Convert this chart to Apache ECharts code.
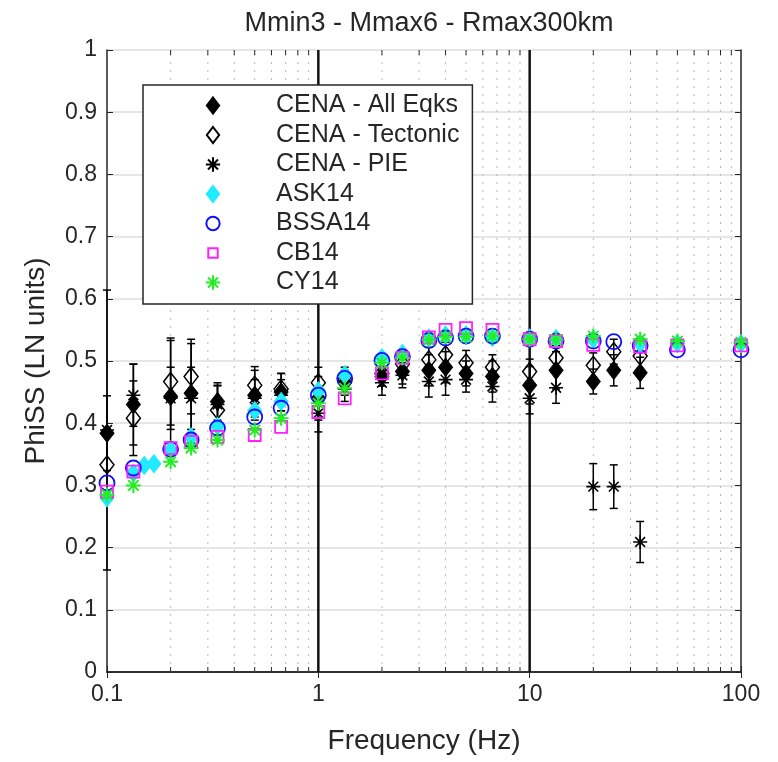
<!DOCTYPE html>
<html>
<head>
<meta charset="utf-8">
<script src="https://cdn.jsdelivr.net/npm/echarts@6/dist/echarts.min.js"></script>
<style>
html,body{margin:0;padding:0;background:#fff;}
#chart{width:778px;height:762px;}
</style>
</head>
<body>
<div id="chart"></div>
<script>
// ---------- data ----------
var titleText = 'Mmin3 - Mmax6 - Rmax300km';
var xName = 'Frequency (Hz)';
var yName = 'PhiSS (LN units)';

var fCENA = [0.1, 0.1333, 0.2, 0.25, 0.3333, 0.5, 0.6667, 1, 1.333, 2, 2.5, 3.333, 4, 5, 6.667, 10, 13.33, 20, 25, 33.33];
var allEqks = [0.384, 0.43, 0.443, 0.448, 0.435, 0.445, 0.45, 0.44, 0.465, 0.475, 0.483, 0.485, 0.49, 0.48, 0.475, 0.461, 0.485, 0.467, 0.485, 0.481];
var allErr  = [0.06, 0.065, 0.09, 0.08, 0.03, 0.04, 0.03, 0.035, 0.02, 0.015, 0.02, 0.025, 0.025, 0.02, 0.025, 0.03, 0.03, 0.02, 0.025, 0.025];
var tectonic = [0.333, 0.408, 0.467, 0.475, 0.421, 0.461, 0.455, 0.465, 0.47, 0.48, 0.495, 0.502, 0.51, 0.497, 0.49, 0.483, 0.505, 0.493, 0.515, 0.508];
var tecErr   = [0.05, 0.06, 0.07, 0.06, 0.04, 0.03, 0.025, 0.025, 0.02, 0.02, 0.02, 0.02, 0.02, 0.02, 0.02, 0.02, 0.02, 0.02, 0.02, 0.02];
var pie    = [0.389, 0.445, 0.44, 0.44, 0.43, 0.44, 0.445, 0.416, 0.455, 0.465, 0.477, 0.467, 0.47, 0.47, 0.459, 0.44, 0.457, 0.298, 0.298, 0.209];
var pieErr = [0.225, 0.05, 0.05, 0.05, 0.03, 0.03, 0.025, 0.03, 0.02, 0.02, 0.02, 0.025, 0.025, 0.02, 0.025, 0.025, 0.025, 0.037, 0.035, 0.033];

var fASK = [0.1, 0.1333, 0.15, 0.1667, 0.2, 0.25, 0.3333, 0.5, 0.6667, 1, 1.333, 2, 2.5, 3.333, 4, 5, 6.667, 10, 13.33, 20, 33.33, 50, 100];
var ask14 = [0.28, 0.32, 0.332, 0.335, 0.357, 0.378, 0.395, 0.42, 0.435, 0.452, 0.478, 0.505, 0.512, 0.537, 0.542, 0.542, 0.538, 0.537, 0.536, 0.535, 0.528, 0.528, 0.528];

var fModel = [0.1, 0.1333, 0.2, 0.25, 0.3333, 0.5, 0.6667, 1, 1.333, 2, 2.5, 3.333, 4, 5, 6.667, 10, 13.33, 20, 25, 33.33, 50, 100];
var bssa14 = [0.304, 0.328, 0.358, 0.373, 0.392, 0.41, 0.424, 0.445, 0.472, 0.501, 0.507, 0.533, 0.537, 0.54, 0.54, 0.535, 0.532, 0.532, 0.531, 0.525, 0.518, 0.518];
var cb14   = [0.29, 0.322, 0.36, 0.37, 0.378, 0.381, 0.394, 0.418, 0.44, 0.48, 0.505, 0.538, 0.55, 0.553, 0.55, 0.535, 0.532, 0.526, null, 0.523, 0.525, 0.525];
var cy14   = [0.285, 0.30, 0.338, 0.36, 0.373, 0.389, 0.408, 0.432, 0.456, 0.497, 0.505, 0.534, 0.539, 0.539, 0.54, 0.535, 0.534, 0.54, null, 0.535, 0.532, 0.53];

var minorX = [0.2,0.3,0.4,0.5,0.6,0.7,0.8,0.9,2,3,4,5,6,7,8,9,20,30,40,50,60,70,80,90];
var refLinesX = [1, 10];

// ---------- helpers ----------
var FONT = 'Liberation Sans, Arial, sans-serif';
var TXT = '#262626';
var DIAMOND = 'path://M0,-1.3L1,0L0,1.3L-1,0Z';
var SQUARE = 'path://M0,0L1,0L1,1L0,1Z';
var STAR = 'path://M0,-1L0,1M-1,0L1,0M-0.7,-0.7L0.7,0.7M-0.7,0.7L0.7,-0.7';
// legend icons (invisible move-to points add breathing room inside the icon box)
var LEG_SQUARE = 'path://M-0.35,-0.35M1.35,1.35M0,0L1,0L1,1L0,1Z';
var LEG_CIRCLE = 'path://M-1.2,-1.2M1.2,1.2M1,0A1,1 0 1 1 -1,0A1,1 0 1 1 1,0Z';
var LEG_STAR = 'path://M-1.12,-1.12M1.12,1.12M0,-1L0,1M-1,0L1,0M-0.7,-0.7L0.7,0.7M-0.7,0.7L0.7,-0.7';

function zip(xs, ys) {
  var out = [];
  for (var i = 0; i < xs.length; i++) if (ys[i] !== null) out.push([xs[i], ys[i]]);
  return out;
}
function zipErr(xs, ys, es) {
  var out = [];
  for (var i = 0; i < xs.length; i++) out.push([xs[i], ys[i] - es[i], ys[i] + es[i]]);
  return out;
}
function errRender(params, api) {
  var x = api.value(0), lo = api.value(1), hi = api.value(2);
  var p1 = api.coord([x, lo]), p2 = api.coord([x, hi]);
  var w = 4;
  var st = {stroke: '#000', lineWidth: 1.5};
  return {type: 'group', children: [
    {type: 'line', shape: {x1: p1[0], y1: p1[1], x2: p2[0], y2: p2[1]}, style: st},
    {type: 'line', shape: {x1: p1[0]-w, y1: p1[1], x2: p1[0]+w, y2: p1[1]}, style: st},
    {type: 'line', shape: {x1: p2[0]-w, y1: p2[1], x2: p2[0]+w, y2: p2[1]}, style: st}
  ]};
}
function minorRender(params, api) {
  var x = api.value(0);
  var pb = api.coord([x, 0]), pt = api.coord([x, 1]);
  return {type: 'group', children: [
    {type: 'line', shape: {x1: pb[0], y1: pb[1], x2: pt[0], y2: pt[1]},
     style: {stroke: '#b8b8b8', lineWidth: 1, lineDash: [2, 6]}},
    {type: 'line', shape: {x1: pb[0], y1: pb[1], x2: pb[0], y2: pb[1]-5},
     style: {stroke: TXT, lineWidth: 1}},
    {type: 'line', shape: {x1: pt[0], y1: pt[1], x2: pt[0], y2: pt[1]+5},
     style: {stroke: TXT, lineWidth: 1}}
  ]};
}
function refRender(params, api) {
  var x = api.value(0);
  var pb = api.coord([x, 0]), pt = api.coord([x, 1]);
  return {type: 'line', shape: {x1: pb[0], y1: pb[1], x2: pt[0], y2: pt[1]},
          style: {stroke: '#111', lineWidth: 2.5}};
}

var chart = echarts.init(document.getElementById('chart'), null, {renderer: 'canvas'});

var axisLineStyle = {show: true, lineStyle: {color: TXT, width: 1.5}};
var option = {
  animation: false,
  backgroundColor: '#fff',
  textStyle: {fontFamily: FONT},
  title: {
    text: titleText, left: 424, top: 5, textAlign: 'center',
    textStyle: {fontFamily: FONT, fontSize: 27, fontWeight: 'normal', color: TXT}
  },
  grid: {left: 107, right: 37, top: 50, bottom: 90},
  legend: {
    orient: 'vertical', left: 143, top: 85,
    backgroundColor: '#fff', borderColor: TXT, borderWidth: 1.5,
    padding: [8, 13, 9, 61],
    itemWidth: 20, itemHeight: 16, itemGap: 4.5,
    textStyle: {fontFamily: FONT, fontSize: 25, lineHeight: 25, color: TXT, padding: [0, 0, 0, 48]},
    data: [
      {name: 'CENA - All Eqks'},
      {name: 'CENA - Tectonic'},
      {name: 'CENA - PIE', icon: LEG_STAR},
      {name: 'ASK14'},
      {name: 'BSSA14', icon: LEG_CIRCLE},
      {name: 'CB14', icon: LEG_SQUARE},
      {name: 'CY14', icon: LEG_STAR}
    ]
  },
  xAxis: [{
    type: 'log', logBase: 10, min: 0.1, max: 100, position: 'bottom',
    name: xName, nameLocation: 'middle', nameGap: 55,
    nameTextStyle: {fontFamily: FONT, fontSize: 28, color: TXT},
    axisLine: axisLineStyle,
    axisTick: {show: true, inside: true, length: 6, lineStyle: {color: TXT}},
    axisLabel: {fontFamily: FONT, fontSize: 23, color: TXT, margin: 11},
    splitLine: {show: false}, minorTick: {show: false}
  }, {
    type: 'log', logBase: 10, min: 0.1, max: 100, position: 'top',
    axisLine: axisLineStyle,
    axisTick: {show: true, inside: true, length: 6, lineStyle: {color: TXT}},
    axisLabel: {show: false}, splitLine: {show: false}
  }],
  yAxis: [{
    type: 'value', min: 0, max: 1, interval: 0.1, position: 'left',
    name: yName, nameLocation: 'middle', nameGap: 57, nameRotate: 90,
    nameTextStyle: {fontFamily: FONT, fontSize: 28, color: TXT},
    axisLine: axisLineStyle,
    axisTick: {show: true, inside: true, length: 6, lineStyle: {color: TXT}},
    axisLabel: {fontFamily: FONT, fontSize: 23, color: TXT, margin: 10},
    splitLine: {show: true, lineStyle: {color: '#dedede', width: 1.5}}
  }, {
    type: 'value', min: 0, max: 1, interval: 0.1, position: 'right',
    axisLine: axisLineStyle,
    axisTick: {show: true, inside: true, length: 6, lineStyle: {color: TXT}},
    axisLabel: {show: false}, splitLine: {show: false}
  }],
  series: [
    {type: 'custom', name: '_minor', silent: true, z: 1, renderItem: minorRender,
     data: minorX.map(function (v) { return [v]; }), encode: {x: 0}},
    {type: 'custom', name: '_ref', silent: true, z: 1, renderItem: refRender,
     data: refLinesX.map(function (v) { return [v]; }), encode: {x: 0}},
    {type: 'custom', name: '_errAll', silent: true, z: 2, renderItem: errRender,
     data: zipErr(fCENA, allEqks, allErr), encode: {x: 0, y: [1, 2]}},
    {type: 'custom', name: '_errTec', silent: true, z: 2, renderItem: errRender,
     data: zipErr(fCENA, tectonic, tecErr), encode: {x: 0, y: [1, 2]}},
    {type: 'custom', name: '_errPie', silent: true, z: 2, renderItem: errRender,
     data: zipErr(fCENA, pie, pieErr), encode: {x: 0, y: [1, 2]}},
    {type: 'scatter', name: 'CENA - All Eqks', z: 3, symbol: DIAMOND, symbolSize: [14, 18],
     itemStyle: {color: '#000', borderColor: '#000', borderWidth: 1, opacity: 1},
     data: zip(fCENA, allEqks)},
    {type: 'scatter', name: 'CENA - Tectonic', z: 3, symbol: DIAMOND, symbolSize: [14, 18],
     itemStyle: {color: 'rgba(255,255,255,0)', borderColor: '#000', borderWidth: 1.5, opacity: 1},
     data: zip(fCENA, tectonic)},
    {type: 'scatter', name: 'CENA - PIE', z: 3, symbol: STAR, symbolSize: 14,
     itemStyle: {color: 'rgba(0,0,0,0)', borderColor: '#000', borderWidth: 1.6, opacity: 1},
     data: zip(fCENA, pie)},
    {type: 'scatter', name: 'ASK14', z: 4, symbol: DIAMOND, symbolSize: [14, 18],
     itemStyle: {color: '#22eaff', borderColor: '#22eaff', borderWidth: 1, opacity: 1},
     data: zip(fASK, ask14)},
    {type: 'scatter', name: 'BSSA14', z: 4, symbol: 'circle', symbolSize: 15,
     itemStyle: {color: 'rgba(255,255,255,0)', borderColor: '#1010ff', borderWidth: 1.8, opacity: 1},
     data: zip(fModel, bssa14)},
    {type: 'scatter', name: 'CB14', z: 4, symbol: SQUARE, symbolSize: 12,
     itemStyle: {color: 'rgba(255,255,255,0)', borderColor: '#ff20ff', borderWidth: 1.8, opacity: 1},
     data: zip(fModel, cb14)},
    {type: 'scatter', name: 'CY14', z: 4, symbol: STAR, symbolSize: 15,
     itemStyle: {color: 'rgba(0,0,0,0)', borderColor: '#22ee22', borderWidth: 2, opacity: 1},
     data: zip(fModel, cy14)}
  ]
};
chart.setOption(option);
</script>
</body>
</html>
